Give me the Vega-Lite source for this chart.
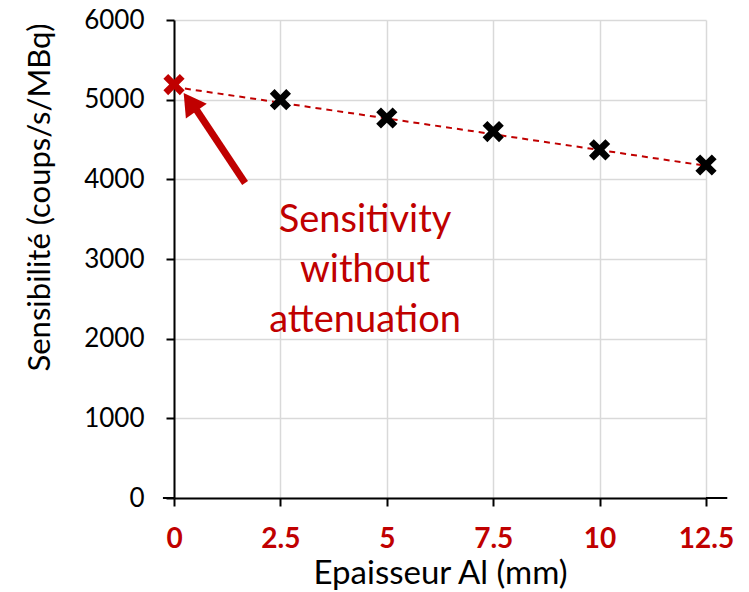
{
  "$schema": "https://vega.github.io/schema/vega-lite/v6.json",
  "autosize": "none",
  "width": 532,
  "height": 478,
  "padding": {"left": 174, "top": 20, "right": 43, "bottom": 94},
  "background": "white",
  "view": {"stroke": null},
  "config": {
    "font": "Lato",
    "axis": {
      "domainColor": "black",
      "domainWidth": 2,
      "tickColor": "black",
      "tickWidth": 2,
      "tickSize": 8,
      "gridColor": "#D9D9D9",
      "gridWidth": 1.5,
      "labelFont": "Lato",
      "titleFont": "Lato",
      "titleFontWeight": "normal",
      "titleColor": "black",
      "labelColor": "black"
    }
  },
  "datasets": {
    "pts": [
      {"x": 0, "y": 5190, "kind": "sans"},
      {"x": 2.5, "y": 5000, "kind": "avec"},
      {"x": 5, "y": 4770, "kind": "avec"},
      {"x": 7.5, "y": 4600, "kind": "avec"},
      {"x": 10, "y": 4370, "kind": "avec"},
      {"x": 12.5, "y": 4180, "kind": "avec"}
    ],
    "trend": [
      {"x": 0, "y": 5160},
      {"x": 12.5, "y": 4170}
    ],
    "arrow": [
      {"x": 1.67, "y": 3954, "x2": 0.53, "y2": 4870}
    ],
    "head": [
      {"x": 0.376, "y": 4970}
    ],
    "note": [
      {"x": 4.49, "y": 3480, "label": "Sensitivity\nwithout\nattenuation"}
    ]
  },
  "layer": [
    {
      "data": {"name": "trend"},
      "mark": {"type": "line", "color": "#C00000", "strokeWidth": 2, "strokeDash": [6, 5]},
      "encoding": {
        "x": {
          "field": "x", "type": "quantitative",
          "scale": {"domain": [0, 12.5], "nice": false, "zero": false},
          "axis": {
            "values": [0, 2.5, 5, 7.5, 10, 12.5],
            "labelExpr": "'' + datum.value",
            "labelFlush": false,
            "labelColor": "#C00000",
            "labelFontWeight": "bold",
            "labelFontSize": 28,
            "labelPadding": 19,
            "title": "Epaisseur Al (mm)",
            "titleFontSize": 33,
            "titlePadding": 4
          }
        },
        "y": {
          "field": "y", "type": "quantitative",
          "scale": {"domain": [0, 6000], "nice": false},
          "axis": {
            "values": [0, 1000, 2000, 3000, 4000, 5000, 6000],
            "format": "d",
            "labelFontSize": 26,
            "labelPadding": 22,
            "title": "Sensibilité (coups/s/MBq)",
            "titleFontSize": 31,
            "titleAngle": -90,
            "titleAlign": "center",
            "titleBaseline": "middle",
            "titleX": -134,
            "titleY": 177
          }
        }
      }
    },
    {
      "data": {"values": [{}]},
      "mark": {"type": "rule", "color": "black", "strokeWidth": 2},
      "encoding": {
        "x": {"datum": 12.5, "type": "quantitative"},
        "x2": {"datum": 13.0},
        "y": {"datum": 0, "type": "quantitative"}
      }
    },
    {
      "data": {"values": [{}]},
      "mark": {"type": "rule", "color": "black", "strokeWidth": 2},
      "encoding": {
        "x": {"datum": -0.26, "type": "quantitative"},
        "x2": {"datum": 0},
        "y": {"datum": 0, "type": "quantitative"}
      }
    },
    {
      "data": {"name": "arrow"},
      "mark": {"type": "rule", "color": "#C00000", "strokeWidth": 7, "strokeCap": "butt"},
      "encoding": {
        "x": {"field": "x", "type": "quantitative"},
        "y": {"field": "y", "type": "quantitative"},
        "x2": {"field": "x2"},
        "y2": {"field": "y2"}
      }
    },
    {
      "data": {"name": "head"},
      "mark": {"type": "point", "shape": "triangle-up", "filled": true, "color": "#C00000", "opacity": 1, "size": 650, "angle": 325},
      "encoding": {
        "x": {"field": "x", "type": "quantitative"},
        "y": {"field": "y", "type": "quantitative"}
      }
    },
    {
      "data": {"name": "pts"},
      "mark": {
        "type": "point",
        "shape": "M-1,-0.55L-0.55,-1L0,-0.45L0.55,-1L1,-0.55L0.45,0L1,0.55L0.55,1L0,0.45L-0.55,1L-1,0.55L-0.45,0Z",
        "filled": true,
        "opacity": 1,
        "size": 450
      },
      "encoding": {
        "x": {"field": "x", "type": "quantitative"},
        "y": {"field": "y", "type": "quantitative"},
        "color": {
          "field": "kind", "type": "nominal",
          "scale": {"domain": ["sans", "avec"], "range": ["#C00000", "black"]},
          "legend": null
        }
      }
    },
    {
      "data": {"name": "note"},
      "mark": {"type": "text", "color": "#C00000", "fontSize": 38, "lineHeight": 50, "align": "center", "baseline": "middle", "lineBreak": "\n", "font": "Lato"},
      "encoding": {
        "x": {"field": "x", "type": "quantitative"},
        "y": {"field": "y", "type": "quantitative"},
        "text": {"field": "label"}
      }
    }
  ]
}
